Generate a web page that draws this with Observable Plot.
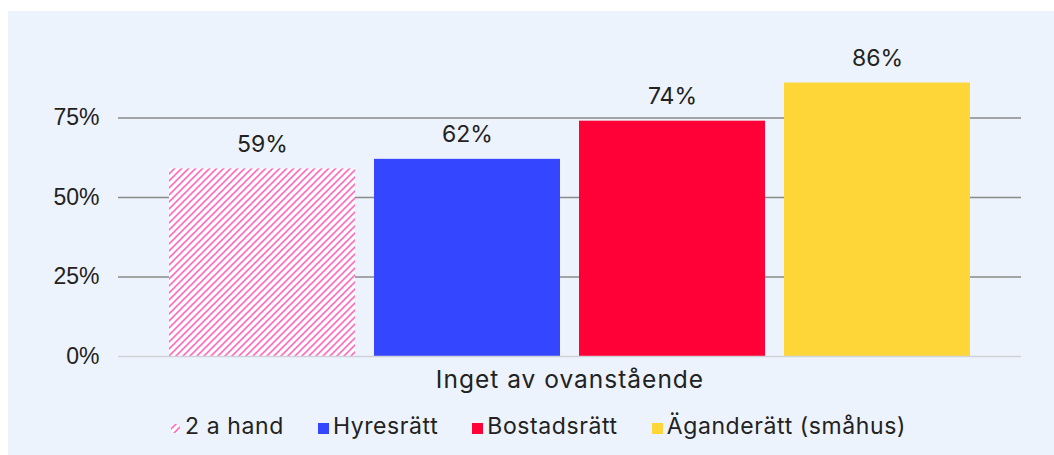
<!DOCTYPE html>
<html>
<head>
<meta charset="utf-8">
<script src="https://cdn.jsdelivr.net/npm/d3@7"></script>
<script src="https://cdn.jsdelivr.net/npm/@observablehq/plot@0.6"></script>
<style>
  html, body { margin: 0; padding: 0; background: #ffffff; }
  #panel { position: absolute; left: 8px; top: 11px; width: 1046px; height: 444px; background: #EDF3FC; }
  #chart { position: absolute; left: 0; top: 0; width: 1054px; }
  #chart svg [aria-label="fx-axis tick label"] { letter-spacing: 1px; }
  #legend { position: absolute; left: 170px; top: 412px; display: flex; justify-content: flex-start; align-items: baseline;
    font-family: Inter, "Noto Sans", sans-serif; font-size: 23px; letter-spacing: 0.6px; color: #222; white-space: nowrap; }
  .item { display: flex; align-items: baseline; margin-right: 34px; }
  .sw { width: 11px; height: 11px; margin-right: 4px; display: inline-block; }
</style>
</head>
<body>
<div id="panel"></div>
<div id="chart"></div>
<div id="legend"></div>
<script>
const group = "Inget av ovanstående";
const series = ["2 a hand", "Hyresrätt", "Bostadsrätt", "Äganderätt (småhus)"];
const values = [0.59, 0.62, 0.74, 0.86];
const colors = ["url(#hatch)", "#3446FF", "#FF0037", "#FFD638"];
const yTicks = [0, 0.25, 0.5, 0.75];

const data = series.map((s, i) => ({group, series: s, value: values[i]}));

const plot = Plot.plot({
  width: 1054,
  height: 400,
  marginLeft: 118,
  marginRight: 33,
  marginTop: 38,
  marginBottom: 44,
  style: {background: "transparent", fontFamily: "Inter, 'Noto Sans', sans-serif", color: "#222"},
  fx: {domain: [group], padding: 0, label: null},
  x: {domain: series, paddingInner: 0.092, paddingOuter: 0.238, axis: null},
  y: {domain: [0, 1], axis: null},
  color: {domain: series, range: colors},
  marks: [
    Plot.gridY(yTicks.filter(t => t > 0), {stroke: "#8a8a8a", strokeOpacity: 1, strokeWidth: 1.3}),
    Plot.axisY(yTicks, {tickFormat: d3.format(".0%"), tickSize: 0, tickPadding: 19, fontSize: 23,
      fontFamily: "'Liberation Sans', Arial, sans-serif", fill: "#222", label: null}),
    Plot.axisFx({anchor: "bottom", tickSize: 0, tickPadding: 14, fontSize: 24.5, fill: "#222", label: null}),
    Plot.barY(data, {fx: "group", x: "series", y: "value", fill: "series"}),
    Plot.ruleY([0], {stroke: "#cfd2d8", strokeWidth: 1.5}),
    Plot.text(data, {fx: "group", x: "series", y: "value", text: d => d3.format(".0%")(d.value),
      lineAnchor: "bottom", dy: -17, fontSize: 23, fill: "#222"})
  ]
});

// hatch pattern definition
const ns = "http://www.w3.org/2000/svg";
function addHatch(svg, id) {
  const defs = document.createElementNS(ns, "defs");
  const pat = document.createElementNS(ns, "pattern");
  pat.setAttribute("id", id);
  pat.setAttribute("patternUnits", "userSpaceOnUse");
  pat.setAttribute("width", 7);
  pat.setAttribute("height", 7);
  const r = document.createElementNS(ns, "rect");
  r.setAttribute("width", 7); r.setAttribute("height", 7); r.setAttribute("fill", "#ffffff");
  const p = document.createElementNS(ns, "path");
  p.setAttribute("d", "M-1,1 l2,-2 M0,7 l7,-7 M6,8 l2,-2");
  p.setAttribute("stroke", "#FF6CC2");
  p.setAttribute("stroke-width", 1.6);
  pat.appendChild(r); pat.appendChild(p); defs.appendChild(pat);
  svg.insertBefore(defs, svg.firstChild);
}
addHatch(plot, "hatch");
document.getElementById("chart").appendChild(plot);

// legend
const legend = document.getElementById("legend");
series.forEach((s, i) => {
  const item = document.createElement("div");
  item.className = "item";
  const sw = document.createElementNS(ns, "svg");
  sw.setAttribute("width", 11); sw.setAttribute("height", 11);
  sw.setAttribute("class", "sw");
  if (i === 0) addHatch(sw, "hatch-legend");
  const rect = document.createElementNS(ns, "rect");
  rect.setAttribute("width", i === 0 ? 9 : 11); rect.setAttribute("height", i === 0 ? 9 : 11);
  if (i === 0) { rect.setAttribute("x", 1); rect.setAttribute("y", 1); rect.setAttribute("rx", 4); }
  rect.setAttribute("fill", i === 0 ? "url(#hatch-legend)" : colors[i]);
  sw.appendChild(rect);
  item.appendChild(sw);
  const t = document.createElement("span");
  t.textContent = s;
  item.appendChild(t);
  legend.appendChild(item);
});
</script>
</body>
</html>
